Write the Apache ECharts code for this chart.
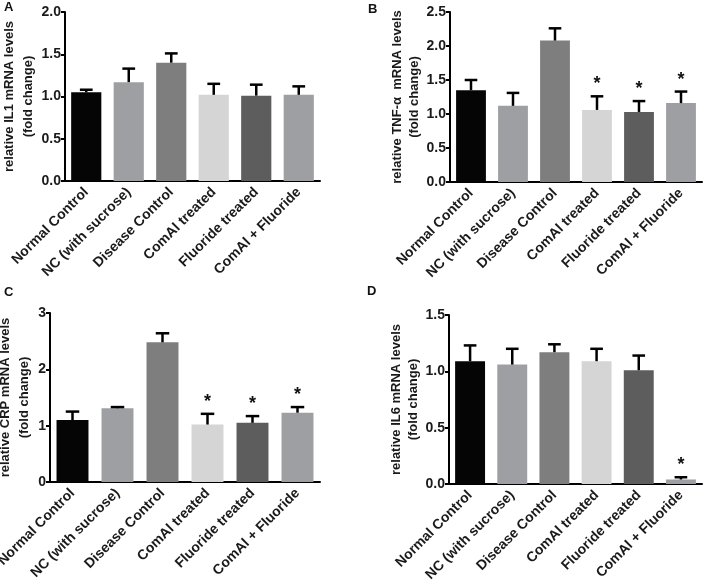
<!DOCTYPE html>
<html>
<head>
<meta charset="utf-8">
<script src="https://cdn.jsdelivr.net/npm/echarts@6/dist/echarts.min.js"></script>
<style>
  html, body { margin: 0; padding: 0; background: #fff; }
  #chart { width: 708px; height: 581px; }
</style>
</head>
<body>
<div id="chart"></div>
<script>
// groups on the x axis (same for every panel)
var categories = ['Normal Control', 'NC (with sucrose)', 'Disease Control', 'ComAl treated', 'Fluoride treated', 'ComAl + Fluoride']
var barColors = ['#050505', '#9e9fa3', '#7e7e7e', '#d5d5d5', '#5d5d5d', '#9e9fa3']

// panel A - IL1
var il1Mean = [1.05, 1.17, 1.40, 1.02, 1.01, 1.02]
var il1Sem = [0.03, 0.16, 0.11, 0.13, 0.13, 0.10]
var il1Star = [0, 0, 0, 0, 0, 0]

// panel B - TNF-alpha
var tnfMean = [1.35, 1.12, 2.08, 1.06, 1.03, 1.16]
var tnfSem = [0.15, 0.19, 0.18, 0.20, 0.16, 0.17]
var tnfStar = [0, 0, 0, 1, 1, 1]

// panel C - CRP
var crpMean = [1.10, 1.31, 2.48, 1.02, 1.05, 1.23]
var crpSem = [0.15, 0.02, 0.16, 0.19, 0.12, 0.10]
var crpStar = [0, 0, 0, 1, 1, 1]

// panel D - IL6
var il6Mean = [1.09, 1.06, 1.17, 1.09, 1.01, 0.04]
var il6Sem = [0.14, 0.14, 0.07, 0.11, 0.13, 0.02]
var il6Star = [0, 0, 0, 0, 0, 1]

var FONT = '"Liberation Sans", Arial, sans-serif'

function errRender(params, api) {
  var i = api.value(0)
  var p0 = api.coord([i, api.value(1)])
  var p1 = api.coord([i, api.value(2)])
  var half = api.size([1, 0])[0] * 0.15
  var st = { stroke: '#000', lineWidth: 2.5 }
  var kids = [
    { type: 'line', shape: { x1: p0[0], y1: p0[1], x2: p1[0], y2: p1[1] }, style: st },
    { type: 'line', shape: { x1: p1[0] - half, y1: p1[1], x2: p1[0] + half, y2: p1[1] }, style: st }
  ]
  if (api.value(3)) {
    kids.push({
      type: 'text', x: p1[0], y: p1[1] - 21,
      style: { text: '*', fill: '#111', font: 'bold 18px ' + FONT, align: 'center', verticalAlign: 'top' }
    })
  }
  return { type: 'group', children: kids }
}

var grids = [
  { left: 65, top: 12, width: 255, height: 169, outerBoundsMode: 'none' },
  { left: 450, top: 12, width: 252, height: 170, outerBoundsMode: 'none' },
  { left: 50, top: 313, width: 270, height: 169, outerBoundsMode: 'none' },
  { left: 449, top: 315, width: 253, height: 169, outerBoundsMode: 'none' }
]

var panels = [
  { mean: il1Mean, sem: il1Sem, star: il1Star, max: 2, step: 0.5, dec: 1, gap: 26, lh: 19, name: 'relative IL1 mRNA levels\n(fold change)' },
  { mean: tnfMean, sem: tnfSem, star: tnfStar, max: 2.5, step: 0.5, dec: 1, gap: 23, lh: 17, name: 'relative TNF-\u03b1  mRNA levels\n(fold change)' },
  { mean: crpMean, sem: crpSem, star: crpStar, max: 3, step: 1, dec: 0, gap: 11, lh: 19, name: 'relative CRP mRNA levels\n(fold change)' },
  { mean: il6Mean, sem: il6Sem, star: il6Star, max: 1.5, step: 0.5, dec: 1, gap: 21, lh: 17, name: 'relative IL6 mRNA levels\n(fold change)' }
]

var xAxes = [], yAxes = [], series = []
panels.forEach(function (p, k) {
  xAxes.push({
    type: 'category', gridIndex: k, data: categories,
    axisLine: { lineStyle: { color: '#000', width: 2 } },
    axisTick: { alignWithLabel: true, length: 5, lineStyle: { color: '#000', width: 2 } },
    axisLabel: { interval: 0, rotate: 45, margin: 9, color: '#1a1a1a', fontWeight: 'bold', fontSize: 14, fontFamily: FONT }
  })
  yAxes.push({
    type: 'value', gridIndex: k, min: 0, max: p.max, interval: p.step,
    name: p.name, nameLocation: 'middle', nameGap: p.gap,
    nameTextStyle: { color: '#1a1a1a', fontWeight: 'bold', fontSize: 13, lineHeight: p.lh, fontFamily: FONT },
    splitLine: { show: false },
    axisLine: { show: true, lineStyle: { color: '#000', width: 2 } },
    axisTick: { show: true, length: 4, lineStyle: { color: '#000', width: 2 } },
    axisLabel: {
      margin: 4, color: '#1a1a1a', fontWeight: 'bold', fontSize: 14, fontFamily: FONT,
      formatter: function (v) { return v.toFixed(p.dec) }
    }
  })
  series.push({
    type: 'bar', xAxisIndex: k, yAxisIndex: k, barCategoryGap: '29%',
    data: p.mean.map(function (v, i) { return { value: v, itemStyle: { color: barColors[i] } } })
  })
  series.push({
    type: 'custom', xAxisIndex: k, yAxisIndex: k, renderItem: errRender, z: 3,
    data: p.mean.map(function (v, i) { return [i, v, +(v + p.sem[i]).toFixed(3), p.star[i]] })
  })
})

var chart = echarts.init(document.getElementById('chart'))
chart.setOption({
  animation: false,
  backgroundColor: '#fff',
  grid: grids,
  xAxis: xAxes,
  yAxis: yAxes,
  series: series,
  graphic: [
    { type: 'text', left: 4, top: 1, style: { text: 'A', font: 'bold 13px ' + FONT, fill: '#111' } },
    { type: 'text', left: 368, top: 3, style: { text: 'B', font: 'bold 13px ' + FONT, fill: '#111' } },
    { type: 'text', left: 4, top: 286, style: { text: 'C', font: 'bold 13px ' + FONT, fill: '#111' } },
    { type: 'text', left: 367, top: 285, style: { text: 'D', font: 'bold 13px ' + FONT, fill: '#111' } }
  ]
})
</script>
</body>
</html>
